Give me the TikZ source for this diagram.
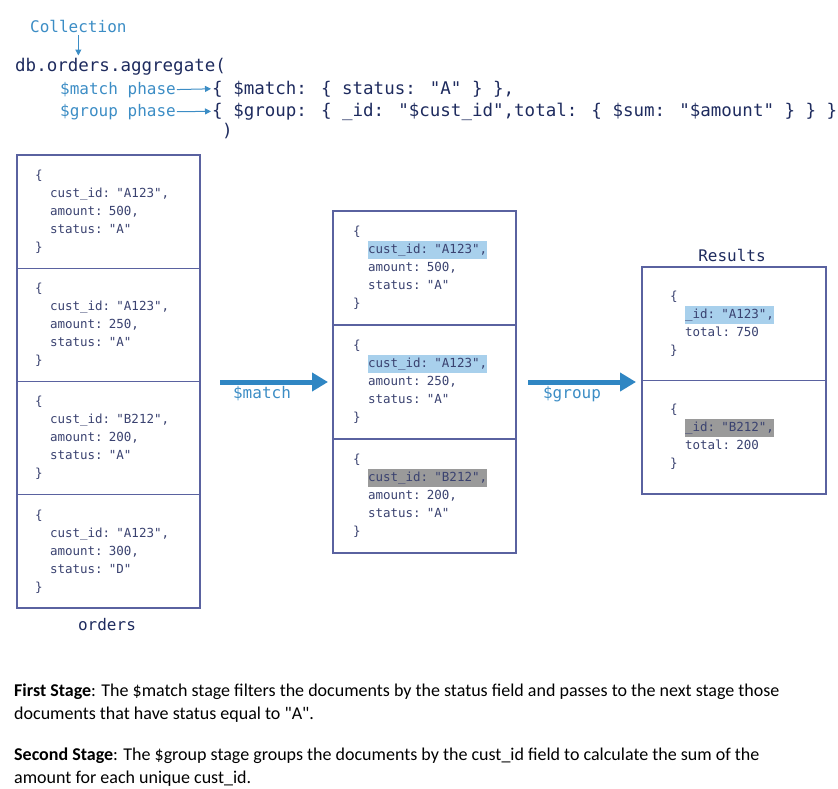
\documentclass[tikz,border=0pt]{standalone}
\usepackage{fontspec}
\setmainfont{Carlito}[Ligatures=TeXOff]
\newfontfamily\codefont{DejaVu Sans Mono}
\usetikzlibrary{arrows.meta,positioning}
\definecolor{navy}{HTML}{1E2B5E}
\definecolor{lblue}{HTML}{3C8DC5}
\definecolor{arrowblue}{HTML}{2F86C3}
\definecolor{boxline}{HTML}{5A62A0}
\definecolor{doctext}{HTML}{3A4270}
\definecolor{hlblue}{HTML}{A8D0EC}
\definecolor{hlgray}{HTML}{9A9A9A}
\newcommand{\hlb}[1]{{\setlength{\fboxsep}{0pt}\colorbox{hlblue}{\strut #1}}}
\newcommand{\hlg}[1]{{\setlength{\fboxsep}{0pt}\colorbox{hlgray}{\strut #1}}}
\newcommand{\ind}{\hspace*{15pt}}

\begin{document}
\begin{tikzpicture}[x=1pt,y=-1pt,
  doc/.style={draw=boxline,line width=1.3pt,outer sep=0pt,anchor=north west,align=left,
    inner ysep=0pt,text=doctext,font=\codefont\fontsize{12.5}{18}\selectfont},
  label/.style={font=\codefont\fontsize{16}{18}\selectfont,text=lblue,inner sep=0pt,anchor=base west},
  code/.style={font=\codefont\fontsize{17.5}{20}\selectfont,text=navy,inner sep=0pt,anchor=base west},
  title/.style={font=\codefont\fontsize{16}{18}\selectfont,text=navy,inner sep=0pt,anchor=base},
  note/.style={anchor=base west,inner sep=0pt,align=left,font=\fontsize{18}{23}\selectfont},
  flow/.style={draw=arrowblue,line width=5pt,-{Triangle[length=16pt,width=18pt]}},
  hint/.style={draw=lblue,line width=1pt,-{Triangle[length=6pt,width=6pt]}}]
\useasboundingbox (0,0) rectangle (838,788);

% header
\node[label] (coll) at (30,32) {Collection};
\node[code] (agg) at (15,71) {db.orders.aggregate(};
\node[label] (mphase) at (60,94) {\$match phase};
\node[code] (mstage) at (212,94) {\{ \$match: \{ status: "A" \} \},};
\node[label] (gphase) at (60,116) {\$group phase};
\node[code] (gstage) at (212,116) {\{ \$group: \{ \_id: "\$cust\_id",total: \{ \$sum: "\$amount" \} \} \}};
\node[code] (close) at (222,136) {)};
\draw[hint,shorten <=3pt,shorten >=2pt] (coll.south) -- (coll.south |- agg.north);
\draw[hint,shorten <=1pt,shorten >=1pt] (mphase.east) -- (mstage.west);
\draw[hint,shorten <=1pt,shorten >=1pt] (gphase.east) -- (gstage.west);

% orders
\node[doc,text width=147pt,inner xsep=18pt,minimum height=113.25pt] (o1) at (17,155)
  {\{\\\ind cust\_id: "A123",\\\ind amount: 500,\\\ind status: "A"\\\}};
\node[doc,text width=147pt,inner xsep=18pt,minimum height=113.25pt,below=0pt of o1] (o2)
  {\{\\\ind cust\_id: "A123",\\\ind amount: 250,\\\ind status: "A"\\\}};
\node[doc,text width=147pt,inner xsep=18pt,minimum height=113.25pt,below=0pt of o2] (o3)
  {\{\\\ind cust\_id: "B212",\\\ind amount: 200,\\\ind status: "A"\\\}};
\node[doc,text width=147pt,inner xsep=18pt,minimum height=113.25pt,below=0pt of o3] (o4)
  {\{\\\ind cust\_id: "A123",\\\ind amount: 300,\\\ind status: "D"\\\}};
\node[title] (orders) at (107,630) {orders};

% after $match
\node[doc,text width=143pt,inner xsep=20pt,minimum height=114pt] (m1) at (333,211)
  {\{\\\ind\hlb{cust\_id: "A123",}\\\ind amount: 500,\\\ind status: "A"\\\}};
\node[doc,text width=143pt,inner xsep=20pt,minimum height=114pt,below=0pt of m1] (m2)
  {\{\\\ind\hlb{cust\_id: "A123",}\\\ind amount: 250,\\\ind status: "A"\\\}};
\node[doc,text width=143pt,inner xsep=20pt,minimum height=114pt,below=0pt of m2] (m3)
  {\{\\\ind\hlg{cust\_id: "B212",}\\\ind amount: 200,\\\ind status: "A"\\\}};

% results
\node[doc,text width=128pt,inner xsep=28pt,minimum height=113.5pt] (r1) at (642,267)
  {\{\\\ind\hlb{\_id: "A123",}\\\ind total: 750\\\}};
\node[doc,text width=128pt,inner xsep=28pt,minimum height=113.5pt,below=0pt of r1] (r2)
  {\{\\\ind\hlg{\_id: "B212",}\\\ind total: 200\\\}};
\node[title] (results) at (732,261) {Results};

% stage arrows
\coordinate (ms) at (220,382);
\coordinate (me) at (328,382);
\coordinate (gs) at (528,382);
\coordinate (ge) at (636,382);
\draw[flow] (ms) -- (me);
\draw[flow] (gs) -- (ge);
\node[label,anchor=base] (mlbl) at (262,398) {\$match};
\node[label,anchor=base] (glbl) at (572,398) {\$group};

% notes (base = last line)
\node[note] (first) at (14,719)
  {\textbf{First Stage}: The \$match stage filters the documents by the status field and passes to the next stage those\\
   documents that have status equal to "A".};
\node[note] (second) at (14,783)
  {\textbf{Second Stage}: The \$group stage groups the documents by the cust\_id field to calculate the sum of the\\
   amount for each unique cust\_id.};
\end{tikzpicture}
\end{document}
